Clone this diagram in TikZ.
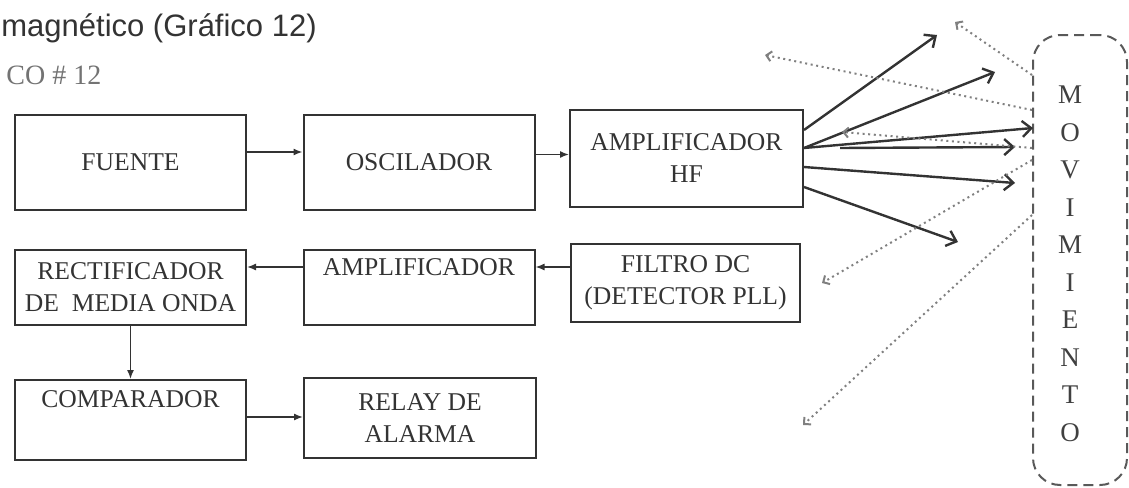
\documentclass[tikz,border=0pt]{standalone}
\usepackage{fontspec}
\setmainfont{Liberation Serif}
\newfontfamily\hdrfont{Liberation Sans}
\usetikzlibrary{arrows.meta}

\begin{document}
\begin{tikzpicture}[x=0.5pt,y=-0.5pt,
  blk/.style={draw=black!80, line width=1pt, minimum width=115.5pt, inner sep=0pt,
    align=center, text=black!80, font=\fontsize{12.8}{16}\selectfont},
  link/.style={draw=black!80, line width=0.7pt, -{Latex[length=4.5pt,width=3.5pt]}},
  ray/.style={draw=black!80, line width=1.2pt, -{Straight Barb[length=4.5pt,width=8pt]}},
  echo/.style={draw=black!50, line width=1pt, dash pattern=on 1pt off 1.8pt,
    -{Straight Barb[length=2.5pt,width=5pt]}},
  movbox/.style={draw=black!65, line width=1pt, dash pattern=on 5pt off 3pt,
    rounded corners=13.5pt, minimum width=47pt, minimum height=225pt, inner sep=0pt},
  letter/.style={inner sep=0pt, text=black!75, font=\fontsize{13.5}{16}\selectfont}]

\useasboundingbox (0,0) rectangle (1129,487);

\node[anchor=base west, inner sep=0pt, text=black!80, font=\hdrfont\fontsize{15.5}{18}\selectfont] (hdr) at (1,36) {magnético (Gráfico 12)};
\node[anchor=base west, inner sep=0pt, text=black!55, font=\fontsize{14}{16}\selectfont] (fig) at (6,84) {CO \# 12};

\node[blk, minimum height=47.5pt] (fuente) at (130.5,162.5) {FUENTE};
\node[blk, minimum height=47.5pt] (osc) at (419,162.5) {OSCILADOR};
\node[blk, minimum height=48.5pt, minimum width=116.5pt] (amphf) at (686.5,158.5) {AMPLIFICADOR\\HF};

\node[blk, minimum height=37.5pt] (rect) at (130.5,287.5) {RECTIFICADOR\\DE~ MEDIA ONDA};
\node[blk, minimum height=37.5pt] (amp) at (419,287.5) {AMPLIFICADOR\\\strut};
\node[blk, minimum height=39pt, minimum width=114.5pt] (filtro) at (685.5,283) {FILTRO DC\\(DETECTOR PLL)};

\node[blk, minimum height=40pt] (comp) at (130.5,420) {COMPARADOR\\\strut};
\node[blk, minimum height=40pt, minimum width=116pt] (relay) at (420,418) {RELAY DE\\ALARMA};

\draw[link] ([yshift=5.25pt]fuente.east) -- ([yshift=5.25pt]osc.west);
\draw[link] ([yshift=4pt]osc.east) -- ([yshift=2pt]amphf.west);
\draw[link] ([yshift=8pt]filtro.west) -- ([yshift=10.25pt]amp.east);
\draw[link] ([yshift=10.25pt]amp.west) -- ([yshift=10.25pt]rect.east);
\draw[link] (rect.south) -- (comp.north);
\draw[link] ([yshift=1.5pt]comp.east) -- ([yshift=0.5pt]relay.west);

% movimiento
\node[movbox] (mov) at (1080,260) {};
\foreach \l [count=\i] in {M,O,V,I,M,I,E,N,T,O}
  \node[letter] (m\i) at (1070,{95+37.5*(\i-1)}) {\l};

\coordinate (ra) at (937,35);
\coordinate (rb) at (995,72);
\coordinate (rc) at (1033,128);
\coordinate (rd0) at (840,148);
\coordinate (rd) at (1015,147);
\coordinate (re) at (1015,183);
\coordinate (rf) at (958,242);

\foreach \s/\t in {14.25/ra, 5.25/rb, 5.25/rc, -4.25/re, -14.25/rf}
  \draw[ray] ([yshift=\s pt]amphf.east) -- (\t);
\draw[ray] (rd0) -- (rd);

\coordinate (ea) at (765,55);
\coordinate (eb) at (955,22);
\coordinate (ec) at (842,132);
\coordinate (ed) at (822,283);
\coordinate (ee) at (803,425);

\foreach \s/\t in {75/ea, 92.5/eb, 56/ec, 50/ed, 22.5/ee}
  \draw[echo] ([yshift=\s pt]mov.west) -- (\t);

\end{tikzpicture}
\end{document}
